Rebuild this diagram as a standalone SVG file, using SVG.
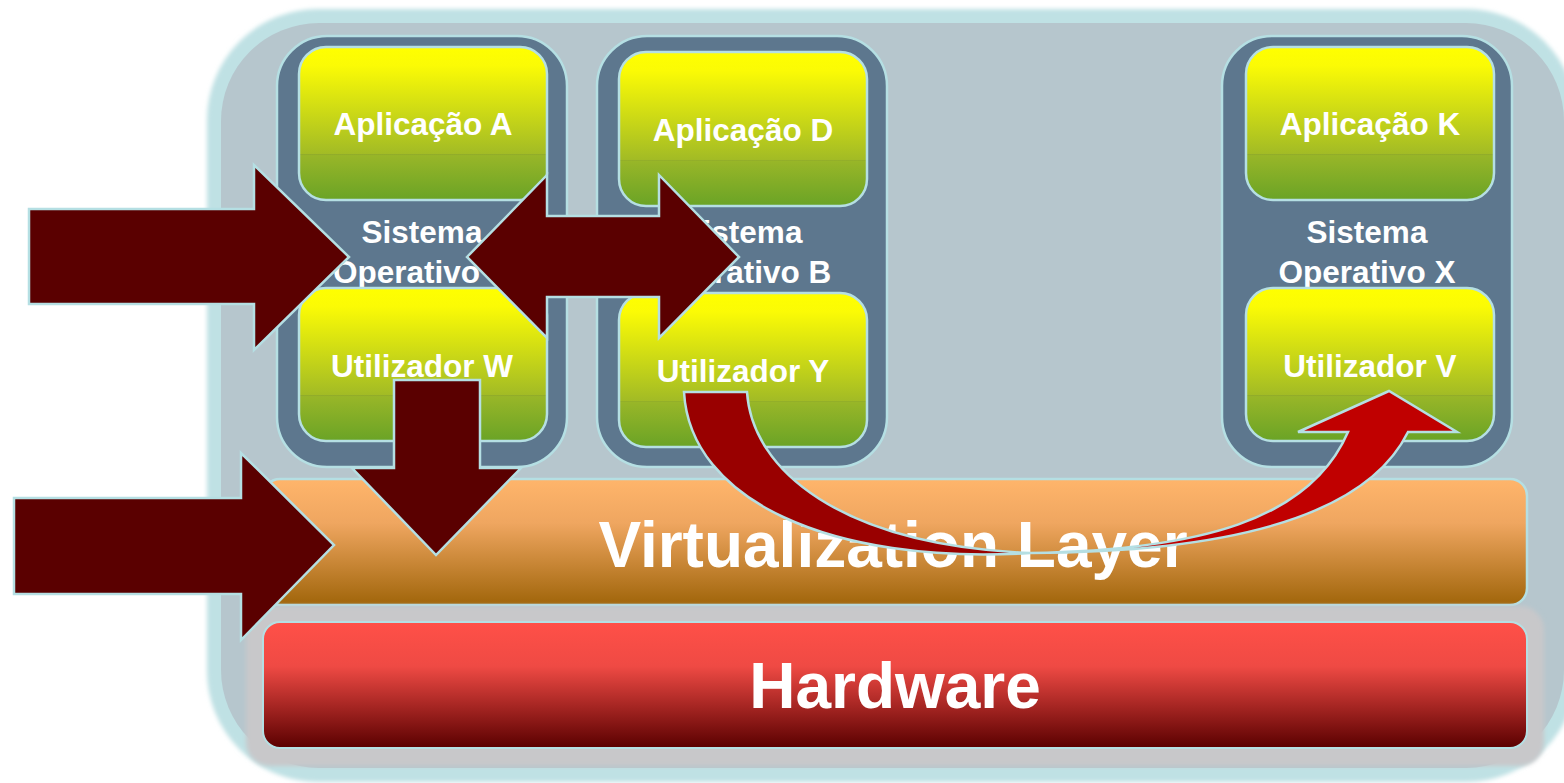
<svg xmlns="http://www.w3.org/2000/svg" width="1564" height="783" viewBox="0 0 1564 783">
<style>
text{font-family:"Liberation Sans",Arial,sans-serif;font-weight:bold;fill:#fff;text-anchor:middle}
.s{font-size:31.5px}
.b{font-size:64px}
.os{fill:#5d778e;stroke:#b5dfe3;stroke-width:2.5}
.in{fill:url(#g);stroke:#b5dfe3;stroke-width:2.5}
.a{stroke:#b5dfe3;stroke-width:2.5;stroke-linejoin:miter}
.d{fill:#5a0000}
</style>
<defs>
<linearGradient id="g" x1="0" y1="0" x2="0" y2="1"><stop offset="0" stop-color="#ffff00"/><stop offset=".12" stop-color="#fbfb05"/><stop offset=".7" stop-color="#a2bb25"/><stop offset=".7" stop-color="#8fa92a"/><stop offset=".71" stop-color="#98b628"/><stop offset="1" stop-color="#6aa326"/></linearGradient>
<linearGradient id="o" x1="0" y1="0" x2="0" y2="1"><stop offset="0" stop-color="#ffb56b"/><stop offset=".35" stop-color="#efa660"/><stop offset="1" stop-color="#a0650a"/></linearGradient>
<linearGradient id="r" x1="0" y1="0" x2="0" y2="1"><stop offset="0" stop-color="#ff5048"/><stop offset=".35" stop-color="#ef4a44"/><stop offset="1" stop-color="#5a0000"/></linearGradient>
<filter id="blur" x="-5%" y="-5%" width="110%" height="110%"><feGaussianBlur stdDeviation="2"/></filter>
</defs>
<rect width="1564" height="783" fill="#fff"/>
<g id="panel">
<rect x="214" y="16" width="1356" height="759" rx="104" fill="#bfe1e4" stroke="#bfe1e4" stroke-width="14" filter="url(#blur)"/>
<rect x="221" y="23" width="1343" height="745" rx="98" fill="#b6c6cd"/>
</g>
<g id="os-a"><rect class="os" x="277" y="36" width="290" height="431" rx="50"/><text class="s" x="422" y="243">Sistema</text><text class="s" x="333" y="283" style="text-anchor:start">Operativo</text></g>
<g id="os-b"><rect class="os" x="597" y="36" width="290" height="431" rx="50"/><text class="s" x="742" y="243">Sistema</text><text class="s" x="742" y="283">Operativo B</text></g>
<g id="os-x"><rect class="os" x="1222" y="36" width="290" height="431" rx="50"/><text class="s" x="1367" y="243">Sistema</text><text class="s" x="1367" y="283">Operativo X</text></g>
<g id="app-a"><rect class="in" x="299" y="47" width="248" height="153" rx="27"/><text class="s" x="423" y="135">Aplicação A</text></g>
<g id="user-w"><rect class="in" x="299" y="288" width="248" height="153" rx="27"/><text class="s" x="422" y="377">Utilizador W</text></g>
<g id="app-d"><rect class="in" x="619" y="52" width="248" height="154" rx="27"/><text class="s" x="743" y="141">Aplicação D</text></g>
<g id="user-y"><rect class="in" x="619" y="293" width="248" height="154" rx="27"/><text class="s" x="743" y="382">Utilizador Y</text></g>
<g id="app-k"><rect class="in" x="1246" y="47" width="248" height="153" rx="27"/><text class="s" x="1370" y="135">Aplicação K</text></g>
<g id="user-v"><rect class="in" x="1246" y="288" width="248" height="153" rx="27"/><text class="s" x="1370" y="377">Utilizador V</text></g>
<g id="virtualization"><rect x="263" y="479" width="1264" height="126" rx="17" fill="url(#o)" stroke="#b5dfe3" stroke-width="2.5"/><text class="b" x="893" y="567">Virtualization Layer</text></g>
<g id="hardware"><rect x="246" y="606" width="1298" height="160" rx="24" fill="#c8c8ca" filter="url(#blur)"/><rect x="263" y="622" width="1264" height="126" rx="17" fill="url(#r)" stroke="#b5dfe3" stroke-width="2"/><text class="b" x="895" y="708">Hardware</text></g>
<g id="connectors">
<path class="a d" d="M29 209H254V165L349 257L254 350V304H29Z"/>
<path class="a d" d="M467 257L547 175V216H659V175L739 257L659 338V297H547V338Z"/>
<path class="a d" d="M14 498H241V453L334 545L241 640V594H14Z"/>
<path class="a d" d="M394 380H480V468H521L436 555L352 468H394Z"/>
<path class="a" fill="#990000" d="M684 392H747C752 470 840 545 1030 553C830 565 690 500 684 392Z"/>
<path class="a" fill="#c00000" d="M1298 432L1389 391L1457 432H1408C1372 505 1260 552 1030 553C1200 550 1310 520 1348 432Z"/>
</g>
</svg>
